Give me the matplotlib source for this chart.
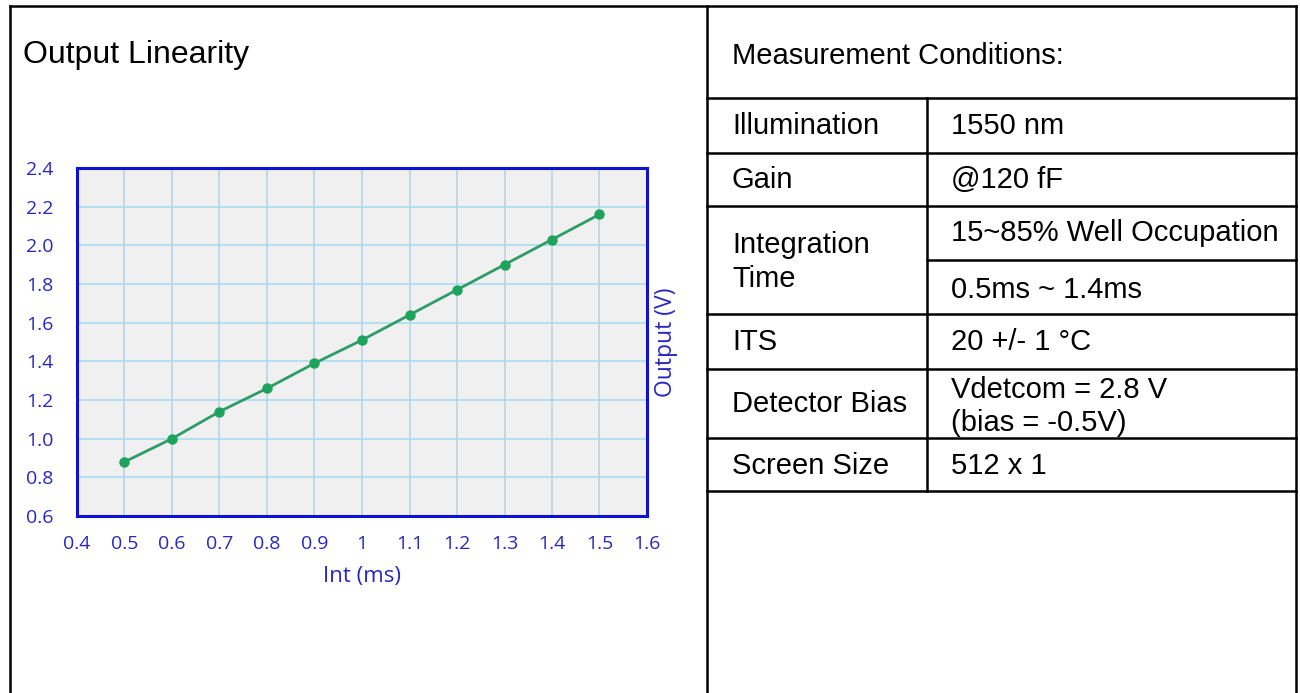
"""Output linearity panel with measurement-conditions table."""
import matplotlib
matplotlib.use("Agg")
import matplotlib.pyplot as plt
from matplotlib.lines import Line2D

# data
int_ms = [0.5, 0.6, 0.7, 0.8, 0.9, 1.0, 1.1, 1.2, 1.3, 1.4, 1.5]
output_v = [0.88, 1.00, 1.14, 1.26, 1.39, 1.51, 1.64, 1.77, 1.90, 2.03, 2.16]
x_ticks = [0.4, 0.5, 0.6, 0.7, 0.8, 0.9, 1.0, 1.1, 1.2, 1.3, 1.4, 1.5, 1.6]
x_labels = ["0.4", "0.5", "0.6", "0.7", "0.8", "0.9", "1", "1.1", "1.2", "1.3", "1.4", "1.5", "1.6"]
y_ticks = [0.6, 0.8, 1.0, 1.2, 1.4, 1.6, 1.8, 2.0, 2.2, 2.4]
y_labels = ["0.6", "0.8", "1.0", "1.2", "1.4", "1.6", "1.8", "2.0", "2.2", "2.4"]

cond_header = "Measurement Conditions:"
cond_names = ["Illumination", "Gain", "Integration\nTime", "ITS", "Detector Bias", "Screen Size"]
cond_values = [["1550 nm"], ["@120 fF"], ["15~85% Well Occupation", "0.5ms ~ 1.4ms"],
               ["20 +/- 1 °C"], ["Vdetcom = 2.8 V\n(bias = -0.5V)"], ["512 x 1"]]

W, H = 1300, 693
fig = plt.figure(figsize=(W / 100, H / 100), dpi=100)
fig.patch.set_facecolor("white")


def fx(px):
    return px / W


def fy(py):
    return 1 - py / H


def hline(y, x0, x1):
    fig.add_artist(Line2D([fx(x0), fx(x1)], [fy(y), fy(y)], color="black", lw=1.8, solid_capstyle="projecting"))


def vline(x, y0, y1):
    fig.add_artist(Line2D([fx(x), fx(x)], [fy(y0), fy(y1)], color="black", lw=1.8, solid_capstyle="projecting"))


TXT = dict(family="Liberation Sans", color="black")
FS = 21

# outer frame and cell lines
L, R, T, MID, COL = 10, 1296, 6, 707, 927
hline(T, L, R)
vline(L, T, H + 5); vline(R, T, H + 5); vline(MID, T, H + 5)
rows = [98, 153, 206, 314, 369, 438, 491]
for y in rows:
    hline(y, MID, R)
hline(260, COL, R)
vline(COL, rows[0], rows[-1])

# table text
fig.text(fx(23), fy(52), "Output Linearity", fontsize=23, va="center_baseline", **TXT)
fig.text(fx(732), fy(53), cond_header, fontsize=FS, va="center_baseline", **TXT)
name_dy = [1, 1, 2, 1, 1, 1]
val_dy = [1, 1, 0, 1, 3, 1]
for i, (name, vals) in enumerate(zip(cond_names, cond_values)):
    y0, y1 = rows[i], rows[i + 1]
    fig.text(fx(732), fy((y0 + y1) / 2 + name_dy[i]), name, fontsize=FS, va="center", linespacing=1.3, **TXT)
    if len(vals) == 1:
        fig.text(fx(951), fy((y0 + y1) / 2 + val_dy[i]), vals[0], fontsize=FS, va="center", linespacing=1.2, **TXT)
    else:
        fig.text(fx(951), fy((y0 + 260) / 2), vals[0], fontsize=FS, va="center", **TXT)
        fig.text(fx(951), fy((260 + y1) / 2 + 3), vals[1], fontsize=FS, va="center", **TXT)

# chart
ax_l, ax_r, ax_t, ax_b = 77, 647, 168, 516
ax = fig.add_axes([fx(ax_l), fy(ax_b), fx(ax_r - ax_l), (ax_b - ax_t) / H])
ax.set_facecolor("#f0f0f0")
ax.set_xlim(0.4, 1.6); ax.set_ylim(0.6, 2.4)
ax.set_xticks(x_ticks, x_labels); ax.set_yticks(y_ticks, y_labels)
for x in x_ticks[1:-1]:
    ax.axvline(x, color="#bcd2e6", lw=1.2, zorder=1)
for y in y_ticks[1:-1]:
    ax.axhline(y, color="#a9dcf2", lw=1.2, zorder=1)
ax.plot(int_ms, output_v, color="#2e9c6a", lw=2, marker="o", ms=6.5,
        markerfacecolor="#1ea35c", markeredgecolor="#1ea35c", zorder=3)
for s in ax.spines.values():
    s.set_color("#1010d0"); s.set_linewidth(2.2)
ax.tick_params(length=0, colors="#2828c0", labelsize=14)
ax.tick_params(axis="y", pad=17)
ax.tick_params(axis="x", pad=14)
for lab in ax.get_xticklabels() + ax.get_yticklabels():
    lab.set_family("Open Sans")
ax.set_xlabel("Int (ms)", family="Open Sans", fontsize=16, color="#2828c0", labelpad=9)
ax.yaxis.set_label_position("right")
ax.set_ylabel("Output (V)", family="Open Sans", fontsize=16.5, color="#2828c0", labelpad=5)

fig.savefig("out.png", dpi=100)
